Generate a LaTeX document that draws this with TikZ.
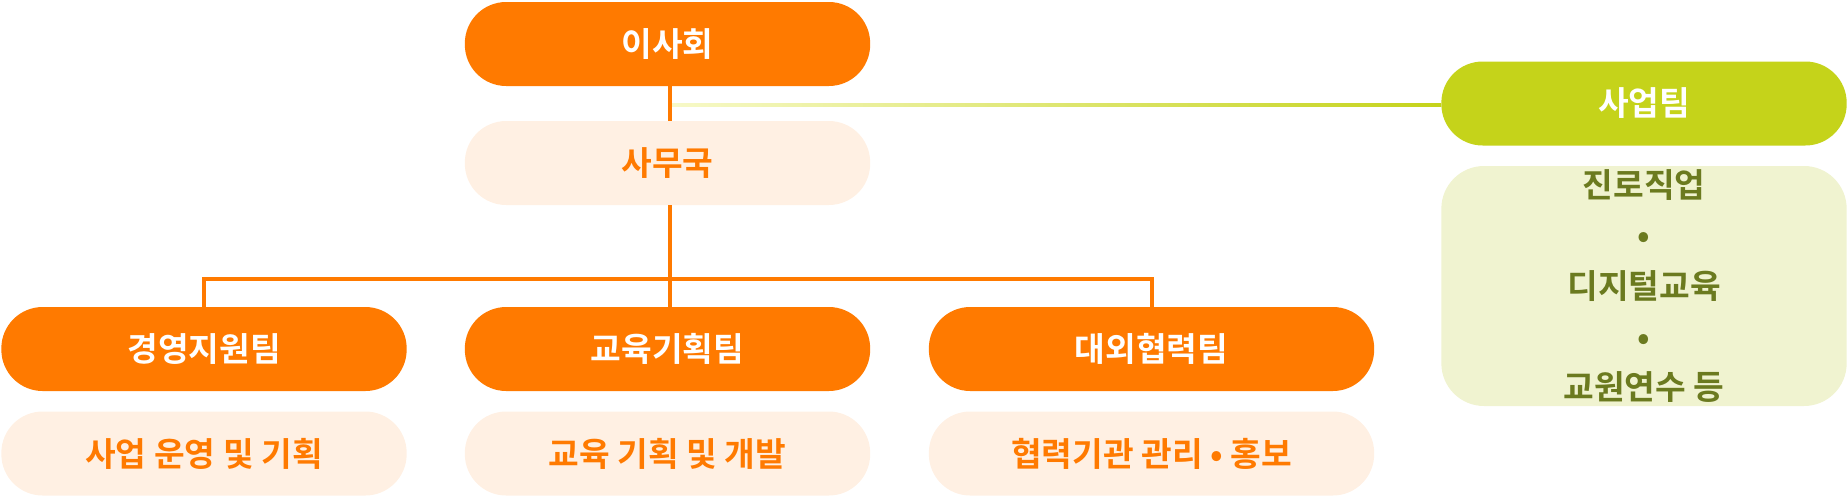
\documentclass[tikz,border=0pt]{standalone}
\usepackage{fontspec}
\newfontfamily\kr{Noto Sans CJK KR Bold}
\usetikzlibrary{positioning}
\definecolor{orgOrange}{HTML}{FF7A00}
\definecolor{orgPale}{HTML}{FFF0E3}
\definecolor{orgGreen}{HTML}{C5D31A}
\definecolor{orgGreenPale}{HTML}{F0F3D0}
\definecolor{orgOlive}{HTML}{6B7A1F}
\definecolor{orgYellow}{HTML}{F7F9C8}
\begin{document}
\begin{tikzpicture}[x=0.75pt, y=-0.75pt,
     box/.style = {rounded corners=31pt, minimum height=63pt, inner sep=0pt, font=\kr\fontsize{25}{30}\selectfont},
    head/.style = {box, fill=orgOrange, text=white},
    desc/.style = {box, fill=orgPale, text=orgOrange},
    link/.style = {draw=orgOrange, line width=3pt}
                        ]
\useasboundingbox (0,0) rectangle (1847,497);
\node[head, minimum width=304pt] (board)   at (667.5,44)  {이사회};
\node[desc, minimum width=304pt] (office)  at (667.5,163) {사무국};
\node[head, minimum width=304pt] (mgmt)    at (204,349)   {경영지원팀};
\node[desc, minimum width=304pt] (mgmtd)   at (204,453.5) {사업 운영 및 기획};
\node[head, minimum width=304pt] (edu)     at (667.5,349) {교육기획팀};
\node[desc, minimum width=304pt] (edud)    at (667.5,453.5) {교육 기획 및 개발};
\node[head, minimum width=334pt] (ext)     at (1151.5,349) {대외협력팀};
\node[desc, minimum width=334pt] (extd)    at (1151.5,453.5) {협력기관 관리 • 홍보};
\node[box, fill=orgGreen, text=white, minimum width=304pt] (biz) at (1644,103.5) {사업팀};
\node[box, fill=orgGreenPale, text=orgOlive, minimum width=304pt, minimum height=180pt,
      rounded corners=32pt, align=center, font=\kr\fontsize{25}{38}\selectfont] (bizd) at (1644,286)
     {진로직업\\•\\디지털교육\\•\\교원연수 등};

\coordinate (split) at (670,279);
\coordinate (gstart) at (670,106);
\shade[left color=orgYellow, right color=orgGreen] ([yshift=2pt]gstart) rectangle ([yshift=-0.5pt]gstart -| biz.west);
\draw[link] (board.south -| split) -- (office.north -| split);
\draw[link] (office.south -| split) -- (edu.north -| split);
\draw[link] (mgmt.north) |- (split) -| (ext.north);
\end{tikzpicture}
\end{document}
